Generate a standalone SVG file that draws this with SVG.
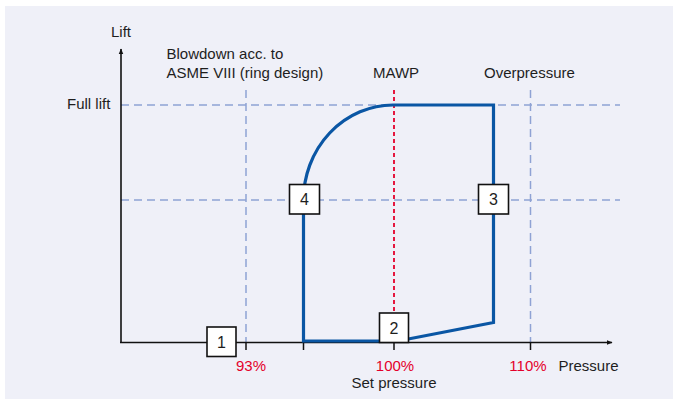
<svg xmlns="http://www.w3.org/2000/svg" width="678" height="403" viewBox="0 0 678 403">
  <defs>
    <style>
      text { font-family: "Liberation Sans", Arial, Helvetica, sans-serif; font-size: 15px; fill: #1e1e1e; }
      .red { fill: #e4002b; }
      .mid { text-anchor: middle; }
      .num { font-size: 16px; }
      .grid { stroke: #8fa2d4; stroke-width: 1.5; stroke-dasharray: 8 5; fill: none; }
      .mawp { stroke: #e4002b; stroke-width: 1.8; stroke-dasharray: 4 3; fill: none; }
      .axis { stroke: #111; stroke-width: 1.6; fill: none; }
      .tick { stroke: #111; stroke-width: 1.5; }
      .curve { stroke: #0a56a4; stroke-width: 3.2; fill: none; stroke-linejoin: miter; }
      .box rect { fill: #fff; stroke: #111; stroke-width: 1.6; }
    </style>
    <marker id="arrow" viewBox="0 0 10 10" refX="9" refY="5" markerWidth="6" markerHeight="6" orient="auto" markerUnits="userSpaceOnUse">
      <path d="M0,1 L10,5 L0,9 z" fill="#111"/>
    </marker>
  </defs>

  <!-- panel -->
  <rect x="5" y="6" width="668" height="393" fill="#eff0f8"/>

  <!-- reference lines -->
  <g id="gridlines">
    <line class="grid" x1="121" y1="105" x2="620" y2="105"/>
    <line class="grid" x1="121" y1="200" x2="620" y2="200"/>
    <line class="grid" x1="246" y1="90" x2="246" y2="342"/>
    <line class="grid" x1="530.5" y1="90" x2="530.5" y2="342"/>
    <line class="mawp" x1="394" y1="90" x2="394" y2="342"/>
  </g>

  <!-- axes -->
  <g id="axes">
    <line class="axis" x1="121" y1="343" x2="121" y2="49" marker-end="url(#arrow)"/>
    <line class="axis" x1="120" y1="342.5" x2="612" y2="342.5" marker-end="url(#arrow)"/>
    <line class="tick" x1="246" y1="342" x2="246" y2="350"/>
    <line class="tick" x1="303.5" y1="342" x2="303.5" y2="350"/>
    <line class="tick" x1="394" y1="342" x2="394" y2="350"/>
    <line class="tick" x1="530.5" y1="342" x2="530.5" y2="350"/>
  </g>

  <!-- lift / pressure cycle -->
  <g id="connectors">
    <path class="curve" d="M303.5,200 L303.5,341 L398,341 L493.5,322.5 L493.5,105 L393,105 A90,95 0 0 0 303.5,200 Z"/>
  </g>

  <!-- numbered stages -->
  <g id="stage1" class="box">
    <rect x="207" y="327" width="29" height="29.5"/>
    <text class="mid num" x="221.5" y="347.5">1</text>
  </g>
  <g id="stage2" class="box">
    <rect x="379.5" y="313" width="29" height="29.5"/>
    <text class="mid num" x="394" y="333.5">2</text>
  </g>
  <g id="stage3" class="box">
    <rect x="478.5" y="184.5" width="30" height="29.5"/>
    <text class="mid num" x="493.5" y="205">3</text>
  </g>
  <g id="stage4" class="box">
    <rect x="289.5" y="184.5" width="30" height="29.5"/>
    <text class="mid num" x="304.5" y="205">4</text>
  </g>

  <!-- labels -->
  <g id="labels">
    <text x="111" y="37">Lift</text>
    <text x="67" y="109">Full lift</text>
    <text x="166.5" y="59">Blowdown acc. to</text>
    <text x="166.5" y="77.5">ASME VIII (ring design)</text>
    <text class="mid" x="396" y="78">MAWP</text>
    <text x="484" y="78">Overpressure</text>
    <text class="red mid" x="251" y="371">93%</text>
    <text class="red mid" x="395" y="371">100%</text>
    <text class="red mid" x="528" y="371">110%</text>
    <text x="558.5" y="371">Pressure</text>
    <text class="mid" x="394" y="388">Set pressure</text>
  </g>
</svg>
